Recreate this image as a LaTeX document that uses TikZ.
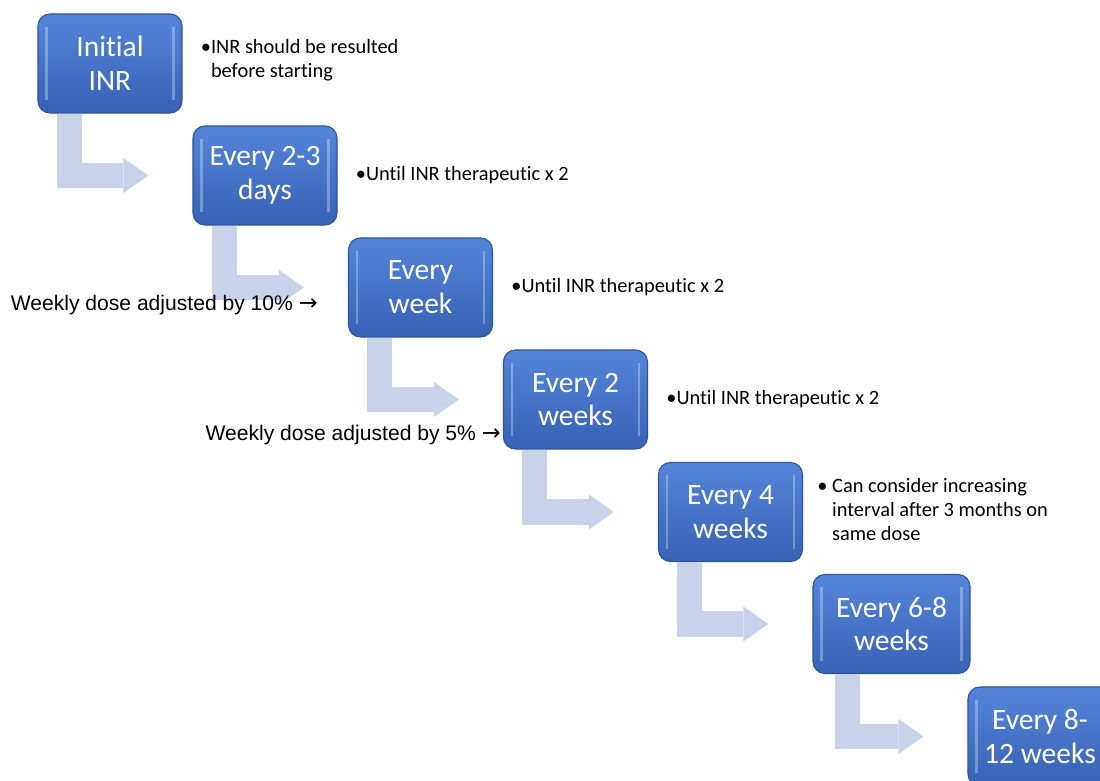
\documentclass[tikz,border=0pt]{standalone}
\usepackage{fontspec}
\setmainfont{Carlito}[Ligatures=NoCommon]
\newfontfamily\arialfont{Liberation Sans}
\newfontfamily\arrowfont{DejaVu Sans}
\usetikzlibrary{arrows.meta, calc}
\definecolor{stagetop}{HTML}{5585D9}
\definecolor{stagebot}{HTML}{3762B5}
\definecolor{stageedge}{HTML}{2F5597}
\definecolor{bendblue}{HTML}{C9D2EB}
\tikzset{
  stage/.style={rectangle, rounded corners=0.3cm, minimum width=3.6cm, minimum height=2.475cm,
    align=center, text=white, font=\fontsize{21}{24}\selectfont, inner sep=1pt,
    draw=stageedge, line width=0.8pt, top color=stagetop, bottom color=stagebot,
    path picture={
      \draw[white, opacity=0.3, line width=1.6pt]
        ([xshift=6pt, yshift=-9pt]path picture bounding box.north west) --
        ([xshift=6pt, yshift=9pt]path picture bounding box.south west);
      \draw[white, opacity=0.3, line width=1.6pt]
        ([xshift=-6pt, yshift=-9pt]path picture bounding box.north east) --
        ([xshift=-6pt, yshift=9pt]path picture bounding box.south east);
    }},
  note/.style={anchor=west, align=left, font=\fontsize{14.5}{17}\selectfont, inner sep=0pt},
  dosenote/.style={anchor=east, font=\arialfont\fontsize{15}{18}\selectfont, inner sep=0pt},
  bentflow/.style={draw=bendblue, line width=0.625cm, line join=miter,
    -{Triangle[length=0.625cm, width=0.875cm, line width=0pt]}},
}
\newcommand{\bnote}[2]{#1\begin{tabular}[t]{@{}l@{}}#2\end{tabular}}
\newcommand{\doseto}{{\arrowfont\fontsize{16}{18}\selectfont →}}

\begin{document}
\begin{tikzpicture}[x=0.025cm, y=-0.025cm]
  \clip (0,0) rectangle (1100,781);
  \fill[white] (0,0) rectangle (1100,781);

  % stages
  \node[stage] (init) at (110,63.5) {Initial\\INR};
  \node[stage] (days) at (265,175.5) {Every 2-3\\days};
  \node[stage] (week) at (420.5,287.5) {Every\\week};
  \node[stage] (twowk) at (575.5,399.5) {Every 2\\weeks};
  \node[stage] (fourwk) at (730.5,512) {Every 4\\weeks};
  \node[stage, minimum width=3.925cm] (sixwk) at (891.5,624) {Every 6-8\\weeks};
  \node[stage] (eightwk) at (1040,736.5) {Every 8-\\12 weeks};

  % bent arrows
  \foreach \a/\b in {init/days, days/week, week/twowk, twowk/fourwk, fourwk/sixwk, sixwk/eightwk}
    \draw[bentflow] ($(\a.south west)!0.22!(\a.south east)$) |- ([xshift=-1.1cm]\b.west);

  % notes
  \node[note] (n1) at ([xshift=0.45cm, yshift=2pt]init.east) {\bnote{•}{INR should be resulted\\before starting}};
  \node[note] (n2) at ([xshift=0.45cm]days.east) {•Until INR therapeutic x 2};
  \node[note] (n3) at ([xshift=0.45cm]week.east) {•Until INR therapeutic x 2};
  \node[note] (n4) at ([xshift=0.45cm]twowk.east) {•Until INR therapeutic x 2};
  \node[note] (n5) at ([xshift=0.35cm]fourwk.east) {\bnote{•\ }{Can consider increasing\\interval after 3 months on\\same dose}};

  \node[dosenote] (ten) at (318,305) {Weekly dose adjusted by 10\% \doseto};
  \node[dosenote] (five) at (501,435) {Weekly dose adjusted by 5\% \doseto};
\end{tikzpicture}
\end{document}
